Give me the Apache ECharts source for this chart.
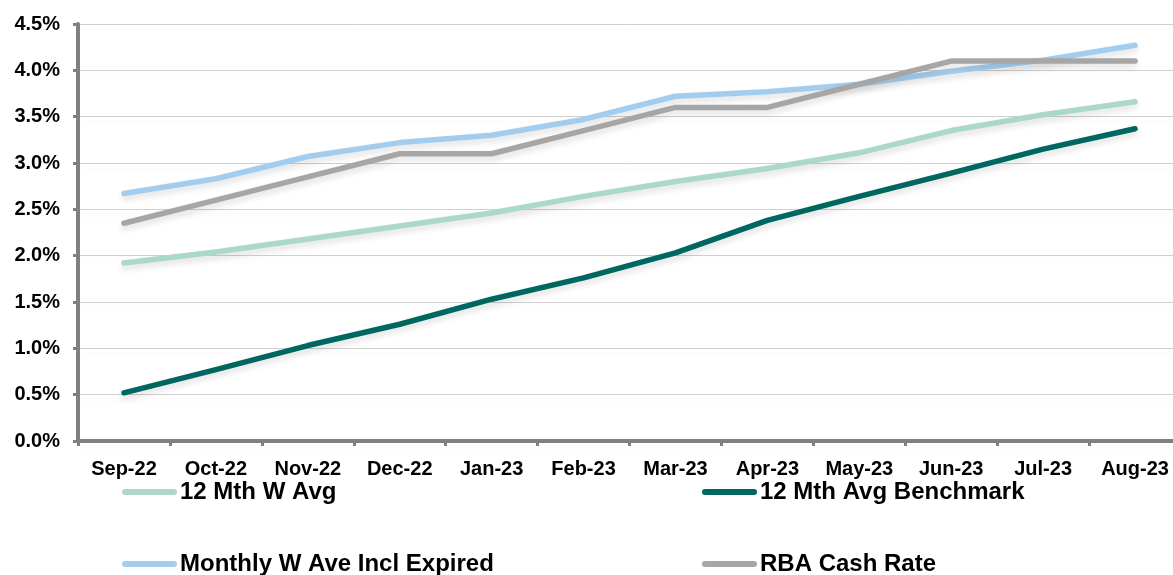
<!DOCTYPE html>
<html>
<head>
<meta charset="utf-8">
<script src="https://cdn.jsdelivr.net/npm/echarts@6/dist/echarts.min.js"></script>
<style>
  html, body { margin: 0; padding: 0; background: #fff; overflow: hidden; }
  #wrap { width: 1173px; height: 575px; overflow: hidden; }
  #chart { width: 1181px; height: 575px; }
</style>
</head>
<body>
<div id="wrap"><div id="chart"></div></div>
<script>
// Monthly rates, Sep-22 to Aug-23 (percent)
const months = ['Sep-22', 'Oct-22', 'Nov-22', 'Dec-22', 'Jan-23', 'Feb-23', 'Mar-23', 'Apr-23', 'May-23', 'Jun-23', 'Jul-23', 'Aug-23'];
const wAvg12 = [1.92, 2.04, 2.18, 2.32, 2.46, 2.64, 2.80, 2.94, 3.11, 3.35, 3.52, 3.66];
const benchmark12 = [0.52, 0.77, 1.03, 1.26, 1.53, 1.76, 2.03, 2.38, 2.64, 2.89, 3.15, 3.37];
const monthlyInclExpired = [2.67, 2.83, 3.07, 3.22, 3.30, 3.47, 3.72, 3.77, 3.85, 3.99, 4.11, 4.27];
const rbaCashRate = [2.35, 2.60, 2.85, 3.10, 3.10, 3.35, 3.60, 3.60, 3.85, 4.10, 4.10, 4.10];
const yTicks = [0, 0.5, 1.0, 1.5, 2.0, 2.5, 3.0, 3.5, 4.0, 4.5];

const names = ['12 Mth W Avg', '12 Mth Avg Benchmark', 'Monthly W Ave Incl Expired', 'RBA Cash Rate'];
const colors = ['#acd8c8', '#006660', '#a3cdee', '#a6a6a6'];
const values = [wAvg12, benchmark12, monthlyInclExpired, rbaCashRate];

const FONT = '"Liberation Sans", Arial, sans-serif';
const capsule = 'path://M3,0 H52 A3,3 0 0 1 52,6 H3 A3,3 0 0 1 3,0 Z';

// One legend per entry, laid out in two columns below the plot
const legendSpots = [
  { left: 122, top: 480 },
  { left: 702, top: 480 },
  { left: 122, top: 552 },
  { left: 702, top: 552 }
];
const legends = names.map((n, i) => ({
  data: [n],
  left: legendSpots[i].left,
  top: legendSpots[i].top,
  icon: capsule,
  itemWidth: 55,
  itemHeight: 6,
  itemGap: 0,
  padding: 0,
  selectedMode: false,
  textStyle: { fontFamily: FONT, fontWeight: 'bold', fontSize: 24, color: '#000', padding: [0, 0, 0, -2] }
}));

const series = names.map((n, i) => ({
  name: n,
  type: 'line',
  data: values[i],
  showSymbol: false,
  symbol: 'none',
  color: colors[i],
  lineStyle: {
    width: 5.5,
    color: colors[i],
    cap: 'round',
    join: 'round',
    shadowColor: 'rgba(0,0,0,0.12)',
    shadowBlur: 6,
    shadowOffsetY: 4
  },
  emphasis: { disabled: true },
  animation: false
}));

const chart = echarts.init(document.getElementById('chart'), null, { renderer: 'canvas' });
chart.setOption({
  backgroundColor: '#ffffff',
  animation: false,
  grid: { left: 78, top: 24, right: 0, bottom: 134, containLabel: false },
  legend: legends,
  xAxis: {
    type: 'category',
    data: months,
    boundaryGap: true,
    axisLine: { lineStyle: { color: '#808080', width: 4 } },
    axisTick: { show: true, alignWithLabel: false, length: 5, lineStyle: { color: '#808080', width: 3 } },
    axisLabel: { margin: 18, fontFamily: FONT, fontWeight: 'bold', fontSize: 20, color: '#000', interval: 0 },
    splitLine: { show: false }
  },
  yAxis: {
    type: 'value',
    min: yTicks[0],
    max: yTicks[yTicks.length - 1],
    interval: 0.5,
    axisLine: { show: true, lineStyle: { color: '#808080', width: 4 } },
    axisTick: { show: true, length: 5, lineStyle: { color: '#808080', width: 3 } },
    axisLabel: {
      margin: 18,
      fontFamily: FONT, fontWeight: 'bold', fontSize: 20, color: '#000',
      formatter: v => v.toFixed(1) + '%'
    },
    splitLine: {
      show: true,
      lineStyle: { color: '#d0d0d0', width: 1, shadowColor: 'rgba(0,0,0,0.07)', shadowBlur: 6, shadowOffsetY: 5 }
    }
  },
  series: series
});
</script>
</body>
</html>
